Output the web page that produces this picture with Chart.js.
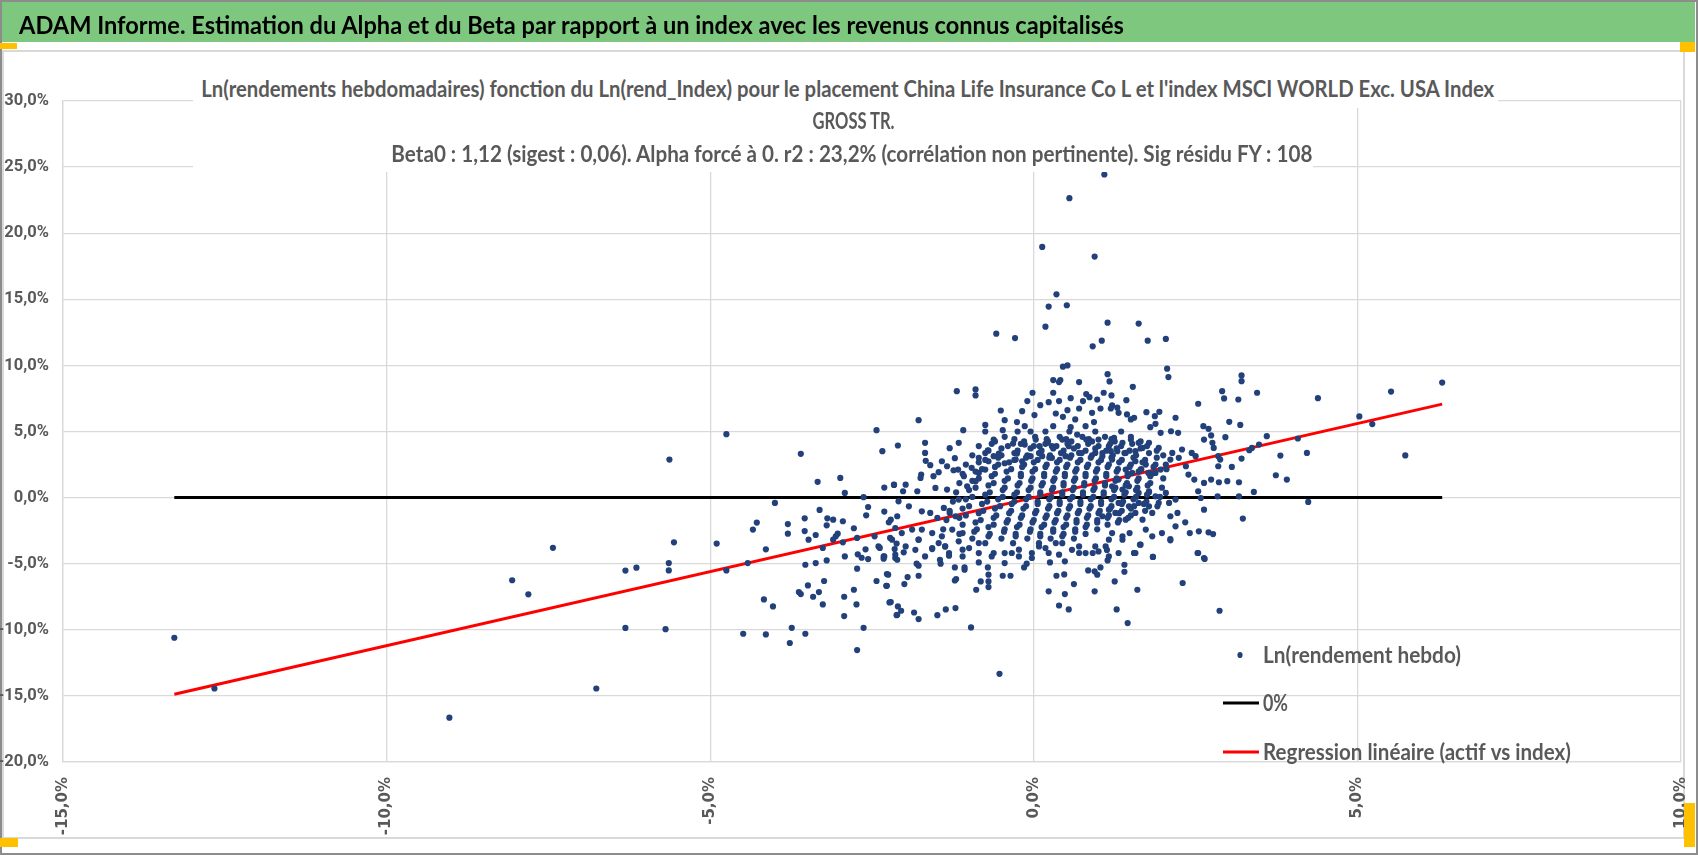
<!DOCTYPE html>
<html><head><meta charset="utf-8">
<script src="https://cdn.jsdelivr.net/npm/chart.js@4.4.1/dist/chart.umd.min.js"></script>
<style>
html,body{margin:0;padding:0;background:#fff;overflow:hidden;}
#stage{position:relative;width:1698px;height:855px;overflow:hidden;background:#fff;}
#frame{position:absolute;left:0;top:0;width:1694px;height:851px;border:2px solid #8c8c8c;}
#band{position:absolute;left:2px;top:2px;width:1693px;height:40px;background:#7ec77e;}
#box{position:absolute;left:2px;top:50px;width:1679px;height:785px;border:2px solid #d9d9d9;}
canvas{position:absolute;left:0;top:0;z-index:2;}
.fit{position:absolute;white-space:nowrap;font-family:Lato,'DejaVu Sans Condensed',sans-serif;font-weight:bold;line-height:30px;z-index:4;}
#head{left:19px;top:9px;font-size:25px;color:#000;transform-origin:0 50%;}
.tbg{position:absolute;background:#fff;z-index:3;}
.tl{color:#595959;font-size:22px;transform-origin:50% 50%;top:0;left:0;}
.handle{position:absolute;background:#ffc000;z-index:5;}
</style></head>
<body>
<div id="stage">
  <div id="frame"></div>
  <div id="band"></div>
  <div id="box"></div>
  <span id="head" class="fit">ADAM Informe. Estimation du Alpha et du Beta par rapport à un index avec les revenus connus capitalisés</span>
  <canvas id="c" width="1698" height="855"></canvas>
  <div class="tbg" style="left:193px;top:68px;width:1305px;height:40px;"></div>
  <div class="tbg" style="left:193px;top:108px;width:1120px;height:64px;"></div>
  <span id="t1" class="fit tl">Ln(rendements hebdomadaires) fonction du Ln(rend_Index) pour le placement China Life Insurance Co L et l'index MSCI WORLD Exc. USA Index</span>
  <span id="t2" class="fit tl">GROSS TR.</span>
  <span id="t3" class="fit tl">Beta0 : 1,12 (sigest : 0,06).  Alpha forcé à 0. r2 : 23,2% (corrélation non pertinente). Sig résidu FY : 108</span>
  <div class="handle" style="left:0;top:43px;width:17px;height:6px;"></div>
  <div class="handle" style="left:1680px;top:42px;width:15px;height:10px;"></div>
  <div class="handle" style="left:0;top:838px;width:18px;height:9px;"></div>
  <div class="handle" style="left:1684px;top:803px;width:11px;height:44px;"></div>
</div>
<script>
// ---- DATA (Ln weekly returns, in %) ----
const seriesLabels = ['Ln(rendement hebdo)', '0%', 'Regression linéaire (actif vs index)'];
const xTicks = [-15, -10, -5, 0, 5, 10];
const yTicks = [-20, -15, -10, -5, 0, 5, 10, 15, 20, 25, 30];

// [index Ln return %, asset Ln return %]
const weeklyPoints = [
[-13.28,-10.6],[-12.66,-14.44],[-9.03,-16.65],[-6.76,-14.44],[-8.06,-6.25],[-7.81,-7.32],[-7.43,-3.80],[-6.31,-5.52],[-6.14,-5.3],[-6.31,-9.86],
[-5.63,2.88],[-4.75,4.80],[-2.43,5.10],[-2.34,3.51],[-2.10,3.94],[-3.60,3.31],[-3.34,1.19],[-2.99,1.49],[-2.92,0.35],[-2.63,0.03],[-2.16,0.96],[-2.31,0.76],
[-4.00,-0.40],[-3.31,-0.93],[-2.56,-0.71],[-2.59,-1.34],[-2.31,-1.06],[-3.54,-1.57],[-3.80,-2.00],[-3.80,-2.73],[-4.28,-1.89],[-4.34,-2.42],[-3.54,-2.53],
[-3.37,-2.83],[-3.48,-3.18],[-3.20,-2.10],[-3.19,-1.57],[-3.10,-1.67],[-2.95,-1.79],[-3.03,-2.73],[-3.06,-2.93],[-3.10,-3.18],[-2.95,-3.38],[-2.78,-2.32],
[-2.73,-3.05],[-2.46,-2.93],[-2.24,-1.87],[-2.21,-1.67],[-2.14,-2.30],[-2.22,-3.05],[-2.38,-3.81],[-2.60,-3.91],[-2.72,-4.29],[-2.66,-4.55],[-2.56,-4.65],
[-2.31,-4.45],[-2.32,-4.62],[-2.15,-3.89],[-2.14,-4.57],[-2.12,-3.48],[-3.26,-3.81],[-3.20,-4.75],[-2.92,-4.45],[-3.37,-4.95],[-3.53,-5.08],[-4.14,-3.91],
[-4.42,-4.95],[-4.75,-5.51],[-4.90,-3.48],[-5.56,-3.38],[-5.64,-4.95],[-5.64,-5.51],[-2.73,-5.38],[-2.27,-5.78],[-2.43,-6.31],[-2.27,-6.67],[-3.24,-6.31],
[-3.49,-6.64],[-3.63,-7.15],[-3.60,-7.30],[-3.41,-7.50],[-3.32,-7.15],[-3.26,-8.08],[-2.93,-7.50],[-2.78,-6.97],[-2.74,-8.08],[-2.21,-7.90],[-2.10,-8.23],
[-2.93,-8.96],[-4.17,-7.70],[-4.03,-8.23],
[-5.69,-9.95],[-4.49,-10.30],[-4.14,-10.35],[-3.74,-9.85],[-3.53,-10.30],[-3.77,-11.0],[-2.63,-9.85],[-2.73,-11.53],[-2.11,-8.86],
[1.09,24.44],[0.55,22.65],[0.13,18.96],[0.94,18.23],[0.35,15.38],
[0.23,14.45],[0.51,14.55],[0.18,12.93],[1.14,13.23],[1.05,11.87],[0.91,11.44],[-0.58,12.40],[-0.29,12.07],[-1.19,8.05],[-0.90,8.18],[-0.90,7.73],[-1.78,5.86],
[0.45,9.90],[0.52,10.0],[0.30,8.89],[0.41,8.89],[0.39,8.74],[0.70,8.74],[1.14,9.34],[1.17,8.79],[-0.02,7.93],[-0.10,7.30],[0.10,6.99],[0.23,7.22],[0.30,7.93],
[0.39,7.30],[0.57,7.52],[0.52,6.61],[0.34,6.36],[0.45,6.11],[0.76,7.30],[0.81,7.83],[0.86,7.60],[0.98,7.42],[1.08,7.93],[1.03,6.74],[1.19,6.74],[1.21,6.97],
[0.90,6.41],[0.93,5.71],[0.70,6.74],[0.64,5.91],[0.57,5.33],[0.01,6.24],[-0.18,6.54],[-0.51,6.59],[-0.45,5.86],[-0.26,5.71],[-0.14,5.40],[-0.05,5.0],
[-0.75,5.50],[-0.75,5.0],[-0.48,5.10],[-1.09,5.10],[-1.16,4.14],[-1.30,3.74],[-1.68,4.14],[-1.68,3.38],[-1.67,2.78],[-1.60,2.45],[-1.42,2.75],[-1.34,2.37],
[-1.22,2.98],[-1.17,2.12],[-1.24,2.07],[-1.74,1.74],[-1.75,1.49],[-1.55,1.62],[-1.47,1.92],[-2.16,0.98],[-1.98,0.98],[-2.02,0.48],[-1.80,0.48],[-2.09,-0.28],
[-2.11,-1.41],[-1.93,-0.66],[-1.73,-1.04],[-1.60,-1.16],[-1.49,-1.54],[-1.39,-0.78],[-1.30,-1.16],[-1.21,-1.41],[-1.16,-0.15],[-1.34,0.61],[-1.52,0.73],
[-1.03,0.86],[-0.90,1.24],[-1.08,1.62],[-0.85,1.87],[-0.75,2.12],[-0.96,2.25],[-0.85,3.01],[-0.71,3.58],[-0.62,4.39],[-0.54,3.33],[-0.70,2.75],[-0.62,3.13],
[-0.45,2.60],[-0.28,2.88],[-0.26,3.33],[-0.18,2.75],[-0.32,4.09],[-0.14,4.01],[0.03,4.39],[0.09,3.89],[0.21,4.14],[0.28,3.89],[0.44,4.39],[0.54,3.89],
[0.67,4.77],[0.81,4.39],[1.00,4.39],[1.24,4.52],[1.19,3.51],[0.95,3.38],[0.70,3.38],[0.49,3.13],[0.28,3.01],[0.13,3.13],[-0.05,3.13],
[-2.04,-2.68],[-2.19,-3.18],[-1.98,-3.69],[-1.78,-3.18],[-1.57,-3.82],[-1.37,-3.69],[-1.16,-3.31],[-1.00,-3.82],[-0.85,-4.2],[-0.65,-4.45],[-0.45,-4.2],
[-0.23,-4.45],[-0.03,-4.2],[0.18,-3.82],[0.39,-4.32],[0.59,-3.95],[0.80,-4.2],[0.95,-3.69],[1.16,-3.18],[-1.10,-4.45],[-1.31,-4.2],[-1.47,-3.44],[-1.68,-4.45],
[-1.83,-3.95],[-2.14,-4.32],[-1.88,-2.42],[-1.73,-2.42],[-1.57,-2.68],[-1.42,-2.93],[-1.26,-2.42],[-1.10,-2.68],
[1.62,13.16],[1.76,11.87],[2.04,12.0],[2.06,9.75],[2.08,9.12],[1.53,8.38],[1.20,7.73],[1.43,7.37],[1.31,6.41],[1.29,6.80],[1.44,6.29],[1.55,6.04],[1.50,5.91],
[1.74,6.46],[1.87,6.16],[1.94,6.49],[2.19,6.04],[1.80,5.33],[1.88,5.58],[1.96,4.90],[2.12,5.02],[2.23,4.90],[2.54,7.10],[2.62,5.40],[2.70,5.20],[2.74,4.70],
[2.63,4.39],[2.76,4.14],[2.78,3.76],[2.91,8.05],[2.94,7.50],[3.16,7.42],[3.21,9.24],[3.21,8.81],[3.45,7.93],[4.39,7.52],[3.02,5.73],[3.19,5.50],[2.96,4.57],
[3.60,4.65],[3.48,4.01],[3.37,3.76],[3.33,3.58],[4.08,4.47],[4.22,3.38],[3.81,3.18],[3.21,2.95],[3.06,2.32],[2.85,3.13],[2.85,2.37],[2.88,2.88],[3.74,1.69],
[3.91,1.36],[3.40,0.43],[4.24,-0.33],[3.17,1.16],[3.17,0.10],[3.23,-1.59],[2.99,1.24],[2.86,1.16],[2.74,1.36],[2.63,1.11],[2.84,0.10],[2.58,-0.03],[2.63,-0.91],
[2.54,0.48],[2.48,1.36],[2.39,1.74],[2.35,2.37],[2.44,3.38],[2.50,3.13],[2.29,3.64],[2.24,3.01],[2.14,3.38],[2.11,2.88],[2.04,2.50],[1.96,2.12],[1.88,1.87],
[1.77,1.87],[1.65,2.12],[1.52,1.87],[1.42,2.12],[1.21,2.88],[1.06,3.13],[1.16,3.89],[1.37,4.14],[1.50,4.39],[1.62,4.14],[1.78,4.14],[1.93,3.76],[1.57,3.51],
[1.68,3.76],[1.42,3.38],[1.29,3.51],[1.57,2.75],[1.73,2.50],[1.31,1.36],[1.21,0.86],[1.37,0.61],[1.47,0.86],[1.62,0.35],[1.78,0.48],[1.88,0.10],[2.04,0.35],
[2.19,-0.15],[2.09,-0.40],[1.93,-0.40],[1.78,-0.66],[1.62,-0.40],[1.47,-0.66],[1.31,-0.40],[1.16,-0.91],[1.06,-1.41],[1.26,-1.16],[1.42,-1.67],[1.57,-1.16],
[1.68,-1.67],[1.83,-1.16],[1.91,-0.66],[2.11,-1.41],[2.22,-1.16],[2.19,-2.17],[2.34,-1.87],[2.41,-2.68],[2.55,-2.55],[2.70,-2.63],[2.77,-2.76],[2.11,-3.13],
[1.65,-3.56],[1.55,-4.19],[1.84,-4.49],[2.54,-4.19],[2.63,-4.57],[1.21,-2.68],[1.37,-2.93],[1.48,-2.68],[1.11,-3.69],[1.31,-4.19],[1.16,-4.45],[1.73,-2.42],
[1.83,-2.93],[1.98,-2.68],
[-2.25,-5.83],[-2.28,-6.67],[-2.23,-7.93],[-2.12,-8.89],[-2.05,-8.56],[-1.85,-8.69],[-1.78,-9.19],[-1.49,-8.89],[-1.36,-8.46],[-1.21,-8.36],[-0.97,-9.82],
[-0.53,-13.33],[-2.00,-6.54],[-1.95,-6.01],[-1.78,-5.91],[-1.81,-5.0],[-1.78,-5.15],[-1.22,-6.27],[-1.20,-6.16],[-0.89,-6.97],[-0.82,-6.34],[-0.70,-6.34],
[-0.70,-6.77],[-0.70,-5.83],[-0.71,-5.28],[-0.48,-5.91],[-0.36,-5.91],[-0.45,-4.95],[-0.15,-5.28],[-0.11,-5.0],[-1.07,-5.28],[-1.07,-5.45],[-1.22,-5.28],
[-1.44,-5.0],[-1.45,-4.70],[-1.31,-4.39],[-1.57,-3.89],[-2.11,-4.70],[-2.32,-4.45],[-2.01,-4.14],[-0.85,-4.90],[-0.62,-4.19],[-0.34,-4.19],[-0.03,-4.57],
[0.23,-4.19],[0.25,-4.90],[0.35,-5.91],[0.47,-5.81],[0.23,-7.09],[0.48,-7.30],[0.39,-8.16],[0.54,-8.46],[0.62,-6.54],[0.84,-5.51],[0.94,-5.58],[0.98,-5.83],
[0.94,-7.09],[1.03,-5.28],[1.14,-4.75],[1.25,-6.34],[1.28,-8.46],[1.40,-5.08],[1.40,-5.61],[1.45,-9.49],[1.60,-6.97],[0.70,-4.19],[0.48,-4.82],[0.91,-4.19],
[1.00,-4.07],[1.13,-3.96],[1.37,-3.18],[0.70,-3.69],[0.34,-3.44],[0.08,-3.69],[-0.23,-3.94],[-0.85,-3.44],[-1.10,-3.94],[-1.37,-3.69],[-1.78,-3.18],
[-2.40,-3.69],[1.57,-4.19],
[1.64,-3.56],[1.55,-4.19],[1.84,-4.49],[2.11,-3.23],[2.53,-4.19],[2.64,-4.64],[2.30,-6.46],[2.87,-8.56],
[5.03,6.14],[5.23,5.56],[5.52,8.02],[5.74,3.19],[6.31,8.7]
];

// dense core of the cloud, rows of [asset %, [index % ...]]
const denseRows = [
[5.4,[0.3,0.8]],
[5.0,[-0.25,0.18,0.55,0.95,1.35]],
[4.6,[-0.45,0.02,0.4,0.75,1.1,1.5]],
[4.42,[-0.3,0.2,0.5,0.85,1.2]],
[4.25,[-0.6,-0.15,0.22,0.58,0.9,1.25,1.65]],
[4.07,[-0.65,-0.2,0.18,0.52,0.84,1.18,1.52]],
[3.9,[-0.85,-0.4,0.0,0.35,0.68,1.0,1.35,1.75]],
[3.72,[-0.5,-0.05,0.3,0.62,0.95,1.28,1.65]],
[3.55,[-0.7,-0.25,0.12,0.46,0.8,1.12,1.48,1.9]],
[3.37,[-0.75,-0.3,0.08,0.42,0.74,1.06,1.4,1.78]],
[3.2,[-0.95,-0.5,-0.1,0.25,0.58,0.9,1.22,1.58,2.0]],
[3.02,[-0.55,-0.12,0.24,0.56,0.88,1.2,1.54,1.9]],
[2.85,[-0.75,-0.3,0.06,0.4,0.72,1.04,1.36,1.72]],
[2.67,[-0.85,-0.38,0.0,0.36,0.68,1.0,1.32,1.68]],
[2.5,[-1.05,-0.55,-0.15,0.2,0.52,0.84,1.16,1.5,1.88]],
[2.32,[-0.6,-0.18,0.18,0.5,0.82,1.14,1.48,1.85]],
[2.15,[-0.8,-0.35,0.02,0.36,0.66,0.98,1.3,1.66,2.05]],
[1.97,[-0.9,-0.42,-0.02,0.34,0.64,0.96,1.28,1.62]],
[1.8,[-1.1,-0.6,-0.2,0.16,0.48,0.8,1.12,1.45,1.82]],
[1.62,[-0.65,-0.2,0.16,0.48,0.8,1.12,1.45,1.8]],
[1.45,[-0.85,-0.4,-0.02,0.32,0.64,0.96,1.28,1.62,2.0]],
[1.27,[-0.95,-0.45,-0.04,0.3,0.62,0.94,1.26,1.6]],
[1.1,[-1.15,-0.62,-0.22,0.14,0.46,0.78,1.1,1.44,1.8]],
[0.92,[-0.7,-0.25,0.12,0.46,0.78,1.1,1.42,1.76]],
[0.75,[-0.9,-0.45,-0.05,0.3,0.62,0.94,1.26,1.6,1.98]],
[0.57,[-1.0,-0.48,-0.08,0.28,0.6,0.92,1.24,1.58]],
[0.4,[-1.2,-0.68,-0.26,0.1,0.44,0.76,1.08,1.42,1.78]],
[0.22,[-0.75,-0.3,0.1,0.44,0.76,1.08,1.4,1.75]],
[0.05,[-0.95,-0.48,-0.08,0.27,0.6,0.92,1.24,1.58,1.95]],
[-0.13,[-1.05,-0.55,-0.12,0.24,0.56,0.88,1.2,1.54]],
[-0.3,[-1.25,-0.72,-0.3,0.06,0.4,0.72,1.04,1.38,1.74]],
[-0.48,[-0.8,-0.34,0.06,0.4,0.72,1.04,1.36,1.7]],
[-0.65,[-1.0,-0.52,-0.12,0.24,0.56,0.88,1.2,1.55]],
[-0.83,[-1.1,-0.6,-0.16,0.22,0.54,0.86,1.18,1.5]],
[-1.0,[-1.3,-0.78,-0.35,0.04,0.38,0.7,1.02,1.36,1.72]],
[-1.18,[-0.85,-0.38,0.02,0.36,0.68,1.0,1.32]],
[-1.35,[-1.05,-0.58,-0.18,0.2,0.52,0.84,1.16,1.5]],
[-1.53,[-1.15,-0.62,-0.2,0.18,0.5,0.82,1.14,1.46]],
[-1.7,[-1.35,-0.82,-0.4,0.0,0.34,0.66,0.98,1.32]],
[-1.88,[-0.9,-0.42,-0.02,0.32,0.66,0.98,1.3]],
[-2.05,[-1.1,-0.62,-0.22,0.16,0.5,0.82,1.14]],
[-2.23,[-0.7,-0.26,0.12,0.46,0.8]],
[-2.4,[-1.4,-0.88,-0.45,-0.05,0.3,0.64,0.98]],
[-2.58,[-0.92,-0.46,-0.06,0.3,0.64]],
[-2.75,[-1.15,-0.68,-0.28,0.1,0.46,0.8]],
[-2.93,[-0.7,-0.28,0.1,0.44]],
[-3.1,[-0.95,-0.5,-0.1,0.26,0.62]],
[-3.45,[-0.75,-0.32,0.08,0.44]]
];

// horizontal 0% line and regression line (Beta0 = 1,12), ends at the extreme index returns
const zeroLineX = [-13.28, 6.31];
const zeroLineY = [0, 0];
const regLineX = [-13.28, 6.31];
const regLineY = [-14.87, 7.07];

// ---- build datasets ----
const scatterData = weeklyPoints.map(p => ({x: p[0], y: p[1]}));
denseRows.forEach(r => r[1].forEach(x => scatterData.push({x: x, y: r[0]})));
const zeroData = zeroLineX.map((x, i) => ({x: x, y: zeroLineY[i]}));
const regData = regLineX.map((x, i) => ({x: x, y: regLineY[i]}));

const POINT_COLOR = '#22407a';
const GRID = '#d9d9d9';
const TXT = '#595959';
const TEXTFONT = "Lato,'DejaVu Sans Condensed',sans-serif";
const fmt = v => v.toFixed(1).replace('.', ',') + '%';

function fitCanvasText(ctx, text, x, y, targetW) {
  const w = ctx.measureText(text).width;
  ctx.save(); ctx.translate(x, y); ctx.scale(targetW / w, 1); ctx.fillText(text, 0, 0); ctx.restore();
}

const legendPlugin = {
  id: 'xlLegend',
  afterDraw(chart) {
    const ctx = chart.ctx, a = chart.chartArea;
    const mx = a.right - 459, tx = a.right - 418;
    const rows = [a.bottom - 107, a.bottom - 59, a.bottom - 10];
    const widths = [198, 25, 308];
    const ds = chart.data.datasets;
    ctx.save();
    ctx.fillStyle = ds[0].backgroundColor;
    ctx.beginPath(); ctx.ellipse(mx + 18, rows[0], 2.6, 3.1, 0, 0, Math.PI * 2); ctx.fill();
    [1, 2].forEach(i => {
      ctx.strokeStyle = ds[i].borderColor; ctx.lineWidth = 3;
      ctx.beginPath(); ctx.moveTo(mx + 1, rows[i]); ctx.lineTo(mx + 37, rows[i]); ctx.stroke();
    });
    ctx.fillStyle = TXT; ctx.font = 'bold 22px ' + TEXTFONT; ctx.textBaseline = 'middle'; ctx.textAlign = 'left';
    ds.forEach((d, i) => fitCanvasText(ctx, d.label, tx, rows[i] + 1, widths[i]));
    ctx.restore();
  }
};

const zeroPad = s => { s.paddingLeft = 0; s.paddingRight = 0; s.paddingTop = 0; s.paddingBottom = 0; };

new Chart(document.getElementById('c'), {
  type: 'scatter',
  data: {
    datasets: [
      {label: seriesLabels[0], data: scatterData, backgroundColor: POINT_COLOR, borderWidth: 0, pointRadius: 3.1, pointHoverRadius: 3.1, order: 0},
      {label: seriesLabels[1], data: zeroData, showLine: true, borderColor: '#000000', backgroundColor: '#000000', borderWidth: 3, pointRadius: 0, order: 2},
      {label: seriesLabels[2], data: regData, showLine: true, borderColor: '#ff0000', backgroundColor: '#ff0000', borderWidth: 3, pointRadius: 0, order: 1}
    ]
  },
  options: {
    responsive: false,
    animation: false,
    layout: {padding: {left: 0, right: 17, top: 101, bottom: 0}},
    plugins: {legend: {display: false}, tooltip: {enabled: false}, title: {display: false}},
    scales: {
      x: {
        type: 'linear', min: -15, max: 10,
        afterBuildTicks: s => { s.ticks = xTicks.map(v => ({value: v})); },
        afterFit: s => { s.height = 93; zeroPad(s); },
        grid: {color: GRID, lineWidth: 1.3, drawTicks: false},
        border: {color: GRID, width: 1.3},
        ticks: {maxRotation: 90, minRotation: 90, padding: 15, color: TXT,
                font: {family: "'DejaVu Sans',sans-serif", size: 15, weight: 'bold'}, callback: v => fmt(v)}
      },
      y: {
        type: 'linear', min: -20, max: 30,
        afterBuildTicks: s => { s.ticks = yTicks.map(v => ({value: v})); },
        afterFit: s => { s.width = 63; zeroPad(s); },
        grid: {color: GRID, lineWidth: 1.3, drawTicks: false},
        border: {color: GRID, width: 1.3},
        ticks: {padding: 14, color: TXT, font: {family: "Roboto,Lato,sans-serif", size: 16.5, weight: 'bold'}, callback: v => fmt(v)}
      }
    }
  },
  plugins: [legendPlugin]
});

// fit HTML texts to the reference widths
function fitEl(id, target, cx, cy) {
  const el = document.getElementById(id);
  el.style.transform = 'none';
  const w = el.getBoundingClientRect().width;
  if (cx !== undefined) { el.style.left = (cx - w / 2) + 'px'; el.style.top = (cy - 15) + 'px'; }
  el.style.transform = 'scaleX(' + (target / w) + ')';
}
function fitAll() {
  fitEl('head', 1105);
  fitEl('t1', 1293, 848, 89);
  fitEl('t2', 82, 854, 121);
  fitEl('t3', 921, 852, 154);
}
fitAll();
if (document.fonts && document.fonts.ready) document.fonts.ready.then(fitAll);
</script>
</body></html>
